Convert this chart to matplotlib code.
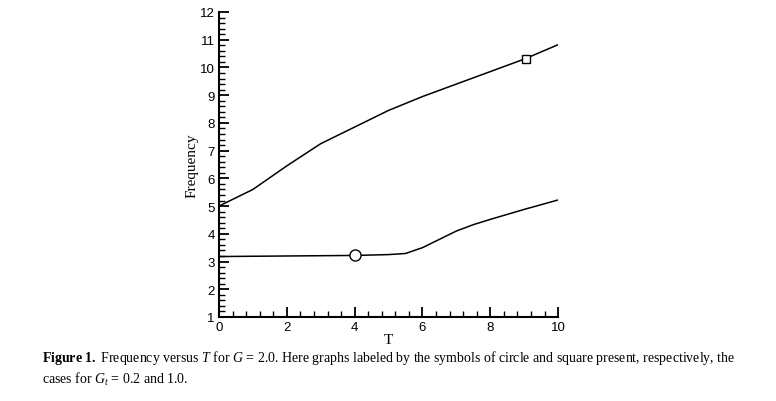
import matplotlib.pyplot as plt
from matplotlib.ticker import MultipleLocator

plt.rcParams["mathtext.fontset"] = "custom"
plt.rcParams["mathtext.rm"] = "Liberation Serif"
plt.rcParams["mathtext.it"] = "Liberation Serif:italic"
plt.rcParams["mathtext.bf"] = "Liberation Serif:bold"

# readings
t_upper = [0, 1, 2, 3, 4, 5, 6, 7, 8, 9, 10]
freq_upper = [5.0, 5.6, 6.45, 7.25, 7.85, 8.45, 8.95, 9.4, 9.85, 10.3, 10.82]

t_lower = [0, 1, 2, 3, 4, 5, 5.5, 6, 6.5, 7, 7.5, 8, 8.5, 9, 9.5, 10]
freq_lower = [3.18, 3.19, 3.2, 3.21, 3.22, 3.25, 3.29, 3.5, 3.8, 4.1, 4.33,
              4.52, 4.7, 4.88, 5.05, 5.22]

circle_pt = (4.02, 3.22)
square_pt = (9.04, 10.3)

fig = plt.figure(figsize=(7.76, 4.02), dpi=100)
ax = fig.add_axes([0.2822, 0.209, 0.437, 0.7587])

ax.plot(t_upper, freq_upper, color="black", linewidth=1.1)
ax.plot(t_lower, freq_lower, color="black", linewidth=1.1)
ax.plot(*circle_pt, marker="o", markersize=8, markerfacecolor="white",
        markeredgecolor="black", markeredgewidth=1.0)
ax.plot(*square_pt, marker="s", markersize=6, markerfacecolor="white",
        markeredgecolor="black", markeredgewidth=1.0)

ax.set_xlim(0, 10)
ax.set_ylim(1, 12)
ax.xaxis.set_major_locator(MultipleLocator(2))
ax.xaxis.set_minor_locator(MultipleLocator(0.4))
ax.yaxis.set_major_locator(MultipleLocator(1))
ax.yaxis.set_minor_locator(MultipleLocator(0.2))

for side in ("top", "right"):
    ax.spines[side].set_visible(False)
for side in ("left", "bottom"):
    ax.spines[side].set_linewidth(1.5)

ax.tick_params(which="major", direction="in", length=7, width=1.3,
               labelsize=9.5, pad=3)
ax.tick_params(which="minor", direction="in", length=4, width=1.0)
for lbl in ax.get_xticklabels() + ax.get_yticklabels():
    lbl.set_family("Liberation Sans")

ax.set_xlabel("T", family="Liberation Serif", fontsize=11, labelpad=0)
ax.set_ylabel("Frequency", family="Liberation Serif", fontsize=11, labelpad=1)

cap_font = dict(family="Liberation Serif", fontsize=10.0, va="baseline")
fig.text(0.054, 1 - 362 / 402,
         r"$\mathbf{Figure\ 1.}$ Frequency versus $T$ for $G$ = 2.0. Here graphs labeled by the "
         "symbols of circle and square present, respectively, the",
         **cap_font)
fig.text(0.054, 1 - 384 / 402, "cases for $G_t$ = 0.2 and 1.0.", **cap_font)

fig.savefig("out.png", dpi=100)
